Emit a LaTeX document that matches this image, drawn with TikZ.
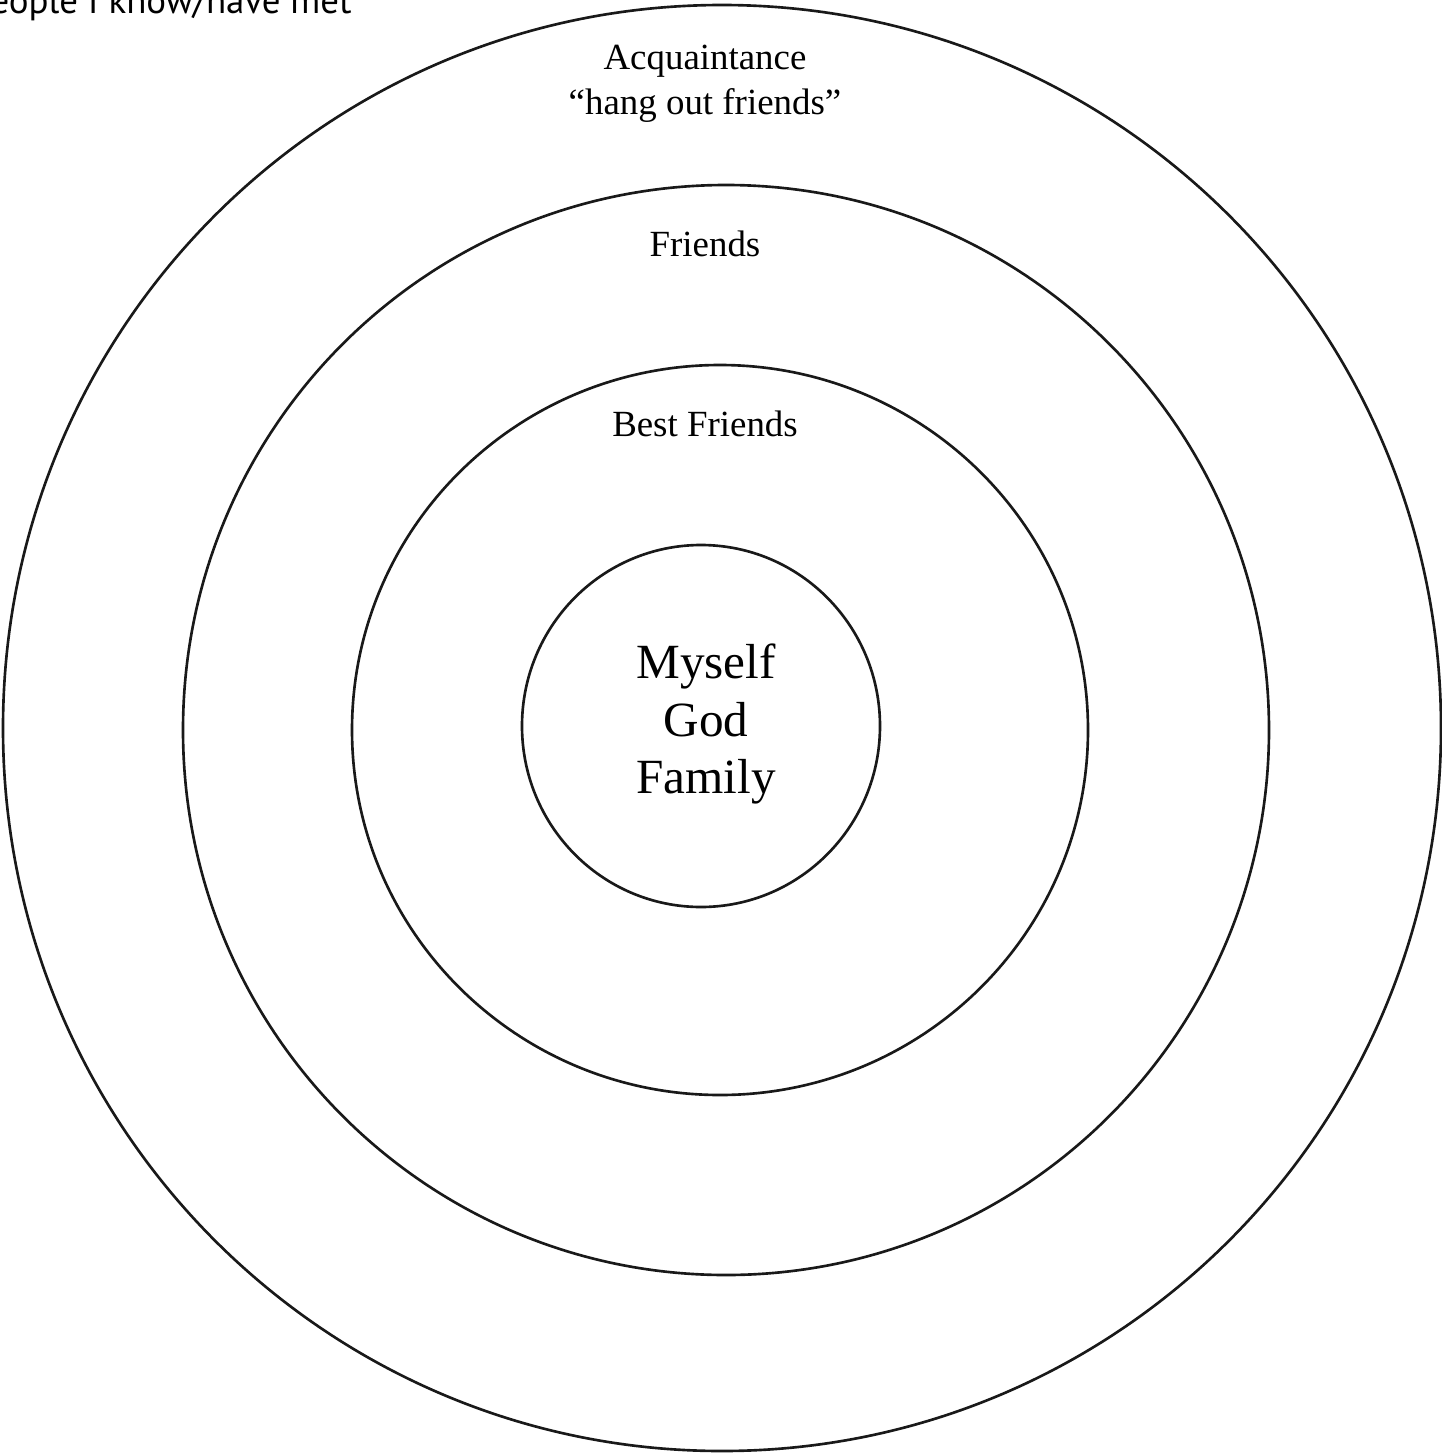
\documentclass[tikz,border=0pt]{standalone}
\usepackage{fontspec}
\setmainfont{Liberation Serif}
\newfontfamily\labelsans{PT Sans}
\begin{document}
\begin{tikzpicture}[x=0.02cm,y=-0.02cm,
  ring/.style={draw=black!90, line width=1.5pt},
  ringlabel/.style={font=\fontsize{21}{25.6}\selectfont, inner sep=0pt, align=center},
  centerlabel/.style={font=\fontsize{28}{32.5}\selectfont, inner sep=0pt, align=center}]
\useasboundingbox (0,0) rectangle (1442,1454);
\clip (0,0) rectangle (1442,1454);
\fill[white] (0,0) rectangle (1442,1454);
% rings
\draw[ring] (722,728) ellipse [x radius=719, y radius=723];
\draw[ring] (726,730) ellipse [x radius=543, y radius=545];
\draw[ring] (720,730) ellipse [x radius=368, y radius=365];
\draw[ring] (701,726) ellipse [x radius=179, y radius=181];
% labels
\node[ringlabel] (acq) at (705,84) {Acquaintance\\``hang out friends''};
\node[ringlabel] (fr) at (705,244) {Friends};
\node[ringlabel] (bf) at (705,424) {Best Friends};
\node[centerlabel] (me) at (706,724) {Myself\\God\\Family};
\node[font=\labelsans\fontsize{21}{24}\selectfont, inner sep=0pt, anchor=base east] (known) at (352,13) {People I know/have met};
\end{tikzpicture}
\end{document}
